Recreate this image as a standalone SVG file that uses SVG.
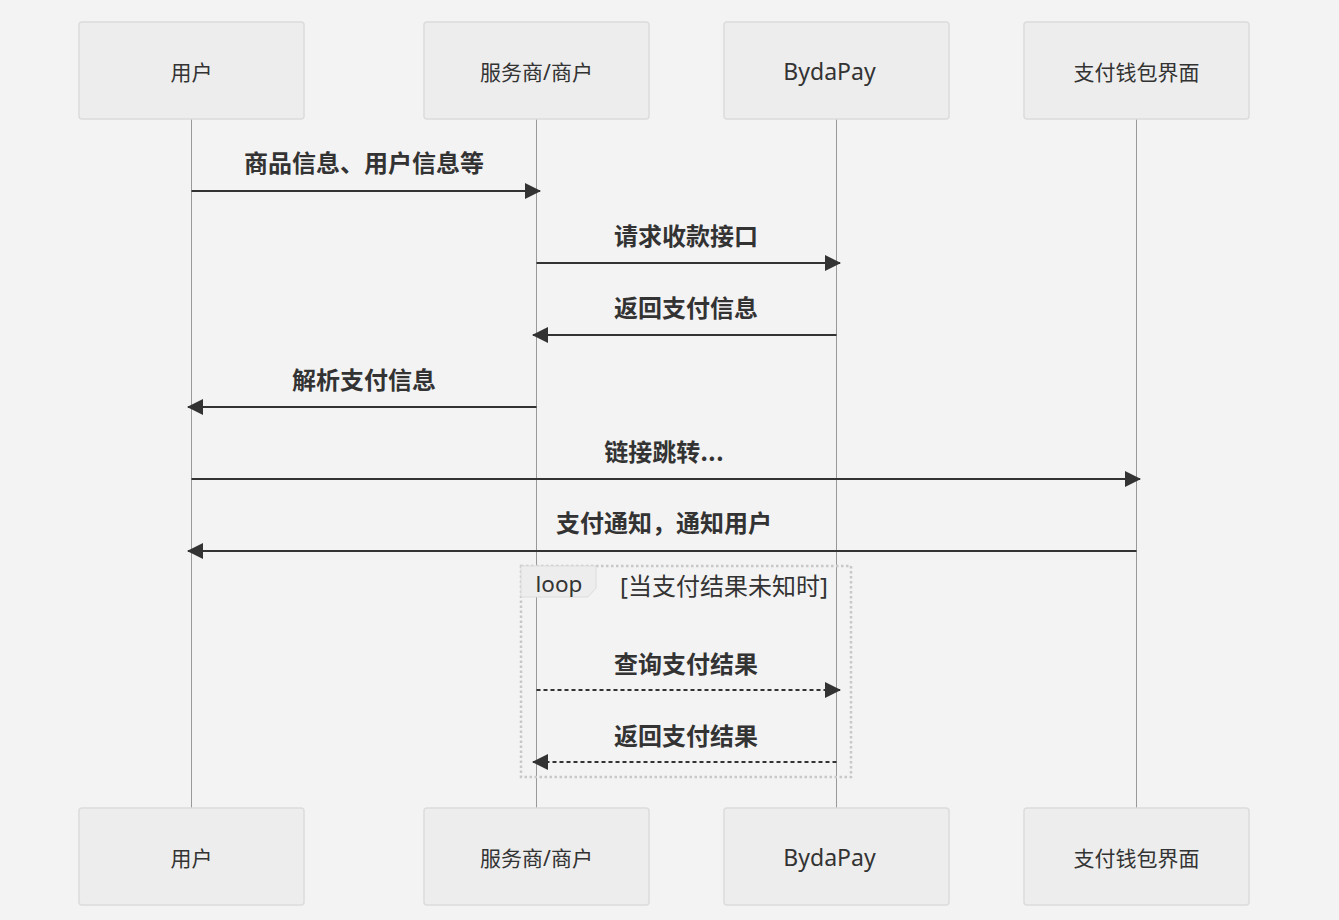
<svg xmlns="http://www.w3.org/2000/svg" width="1339" height="920" viewBox="0 0 1339 920">
<style>
.actor{fill:#ededed;stroke:#dcdcdc;stroke-width:1.5}
.atext{font-family:"Noto Sans","Noto Sans CJK SC",sans-serif;font-size:21px;fill:#333;text-anchor:middle;dominant-baseline:central}
.latin{font-size:23px}
.life{stroke:#999;stroke-width:1}
.msg{stroke:#333;stroke-width:2;fill:none}
.dash{stroke-dasharray:4,3}
.mtext{font-family:"Noto Sans CJK SC","Noto Sans",sans-serif;font-size:24px;font-weight:bold;fill:#333;text-anchor:middle;dominant-baseline:central}
.loop{fill:none;stroke:#c8c8c8;stroke-width:2.5;stroke-dasharray:2.5,2.5}
.ltext{font-family:"Noto Sans","Noto Sans CJK SC",sans-serif;font-size:22.5px;fill:#333;dominant-baseline:central}
.cond{font-size:24px}
</style>
<defs>
<marker id="arr" viewBox="0 0 16 16" refX="15" refY="8" markerWidth="16" markerHeight="16" markerUnits="userSpaceOnUse" orient="auto">
<path d="M0,0 L16,8 L0,16 Z" fill="#333"/>
</marker>
</defs>
<rect width="1339" height="920" fill="#f3f3f3"/>
<g id="lifelines">
<line class="life" x1="191.5" y1="119" x2="191.5" y2="808"/>
<line class="life" x1="536.5" y1="119" x2="536.5" y2="808"/>
<line class="life" x1="836.5" y1="119" x2="836.5" y2="808"/>
<line class="life" x1="1136.5" y1="119" x2="1136.5" y2="808"/>
</g>
<g id="actor-user-top"><rect class="actor" x="79" y="22" width="225" height="97" rx="3"/><text class="atext" x="191.5" y="72">用户</text></g>
<g id="actor-merchant-top"><rect class="actor" x="424" y="22" width="225" height="97" rx="3"/><text class="atext" x="536.5" y="72">服务商/商户</text></g>
<g id="actor-bydapay-top"><rect class="actor" x="724" y="22" width="225" height="97" rx="3"/><text class="atext latin" x="829.5" y="71">BydaPay</text></g>
<g id="actor-wallet-top"><rect class="actor" x="1024" y="22" width="225" height="97" rx="3"/><text class="atext" x="1136.5" y="72">支付钱包界面</text></g>
<g id="actor-user-bottom"><rect class="actor" x="79" y="808" width="225" height="97" rx="3"/><text class="atext" x="191.5" y="858">用户</text></g>
<g id="actor-merchant-bottom"><rect class="actor" x="424" y="808" width="225" height="97" rx="3"/><text class="atext" x="536.5" y="858">服务商/商户</text></g>
<g id="actor-bydapay-bottom"><rect class="actor" x="724" y="808" width="225" height="97" rx="3"/><text class="atext latin" x="829.5" y="857">BydaPay</text></g>
<g id="actor-wallet-bottom"><rect class="actor" x="1024" y="808" width="225" height="97" rx="3"/><text class="atext" x="1136.5" y="858">支付钱包界面</text></g>
<g id="loop">
<rect class="loop" x="521" y="566" width="330" height="211"/>
<polygon points="521,566 596,566 596,588 588,597 521,597" fill="#ededed" stroke="#dcdcdc" stroke-width="1"/>
<text class="ltext" x="559" y="583" text-anchor="middle">loop</text>
<text class="ltext cond" x="724" y="585" text-anchor="middle">[当支付结果未知时]</text>
</g>
<g id="connectors">
<line class="msg" x1="191.5" y1="191" x2="540" y2="191" marker-end="url(#arr)"/>
<line class="msg" x1="536.5" y1="263" x2="840" y2="263" marker-end="url(#arr)"/>
<line class="msg" x1="836.5" y1="335" x2="533" y2="335" marker-end="url(#arr)"/>
<line class="msg" x1="536.5" y1="407" x2="188" y2="407" marker-end="url(#arr)"/>
<line class="msg" x1="191.5" y1="479" x2="1140" y2="479" marker-end="url(#arr)"/>
<line class="msg" x1="1136.5" y1="551" x2="188" y2="551" marker-end="url(#arr)"/>
<line class="msg dash" x1="536.5" y1="690" x2="840" y2="690" marker-end="url(#arr)"/>
<line class="msg dash" x1="836.5" y1="762" x2="533" y2="762" marker-end="url(#arr)"/>
</g>
<g id="labels">
<text class="mtext" x="364" y="161">商品信息、用户信息等</text>
<text class="mtext" x="686" y="234">请求收款接口</text>
<text class="mtext" x="686" y="306">返回支付信息</text>
<text class="mtext" x="364" y="378">解析支付信息</text>
<text class="mtext" x="664" y="450">链接跳转...</text>
<text class="mtext" x="664" y="521">支付通知，通知用户</text>
<text class="mtext" x="686" y="662">查询支付结果</text>
<text class="mtext" x="686" y="734">返回支付结果</text>
</g>
</svg>
